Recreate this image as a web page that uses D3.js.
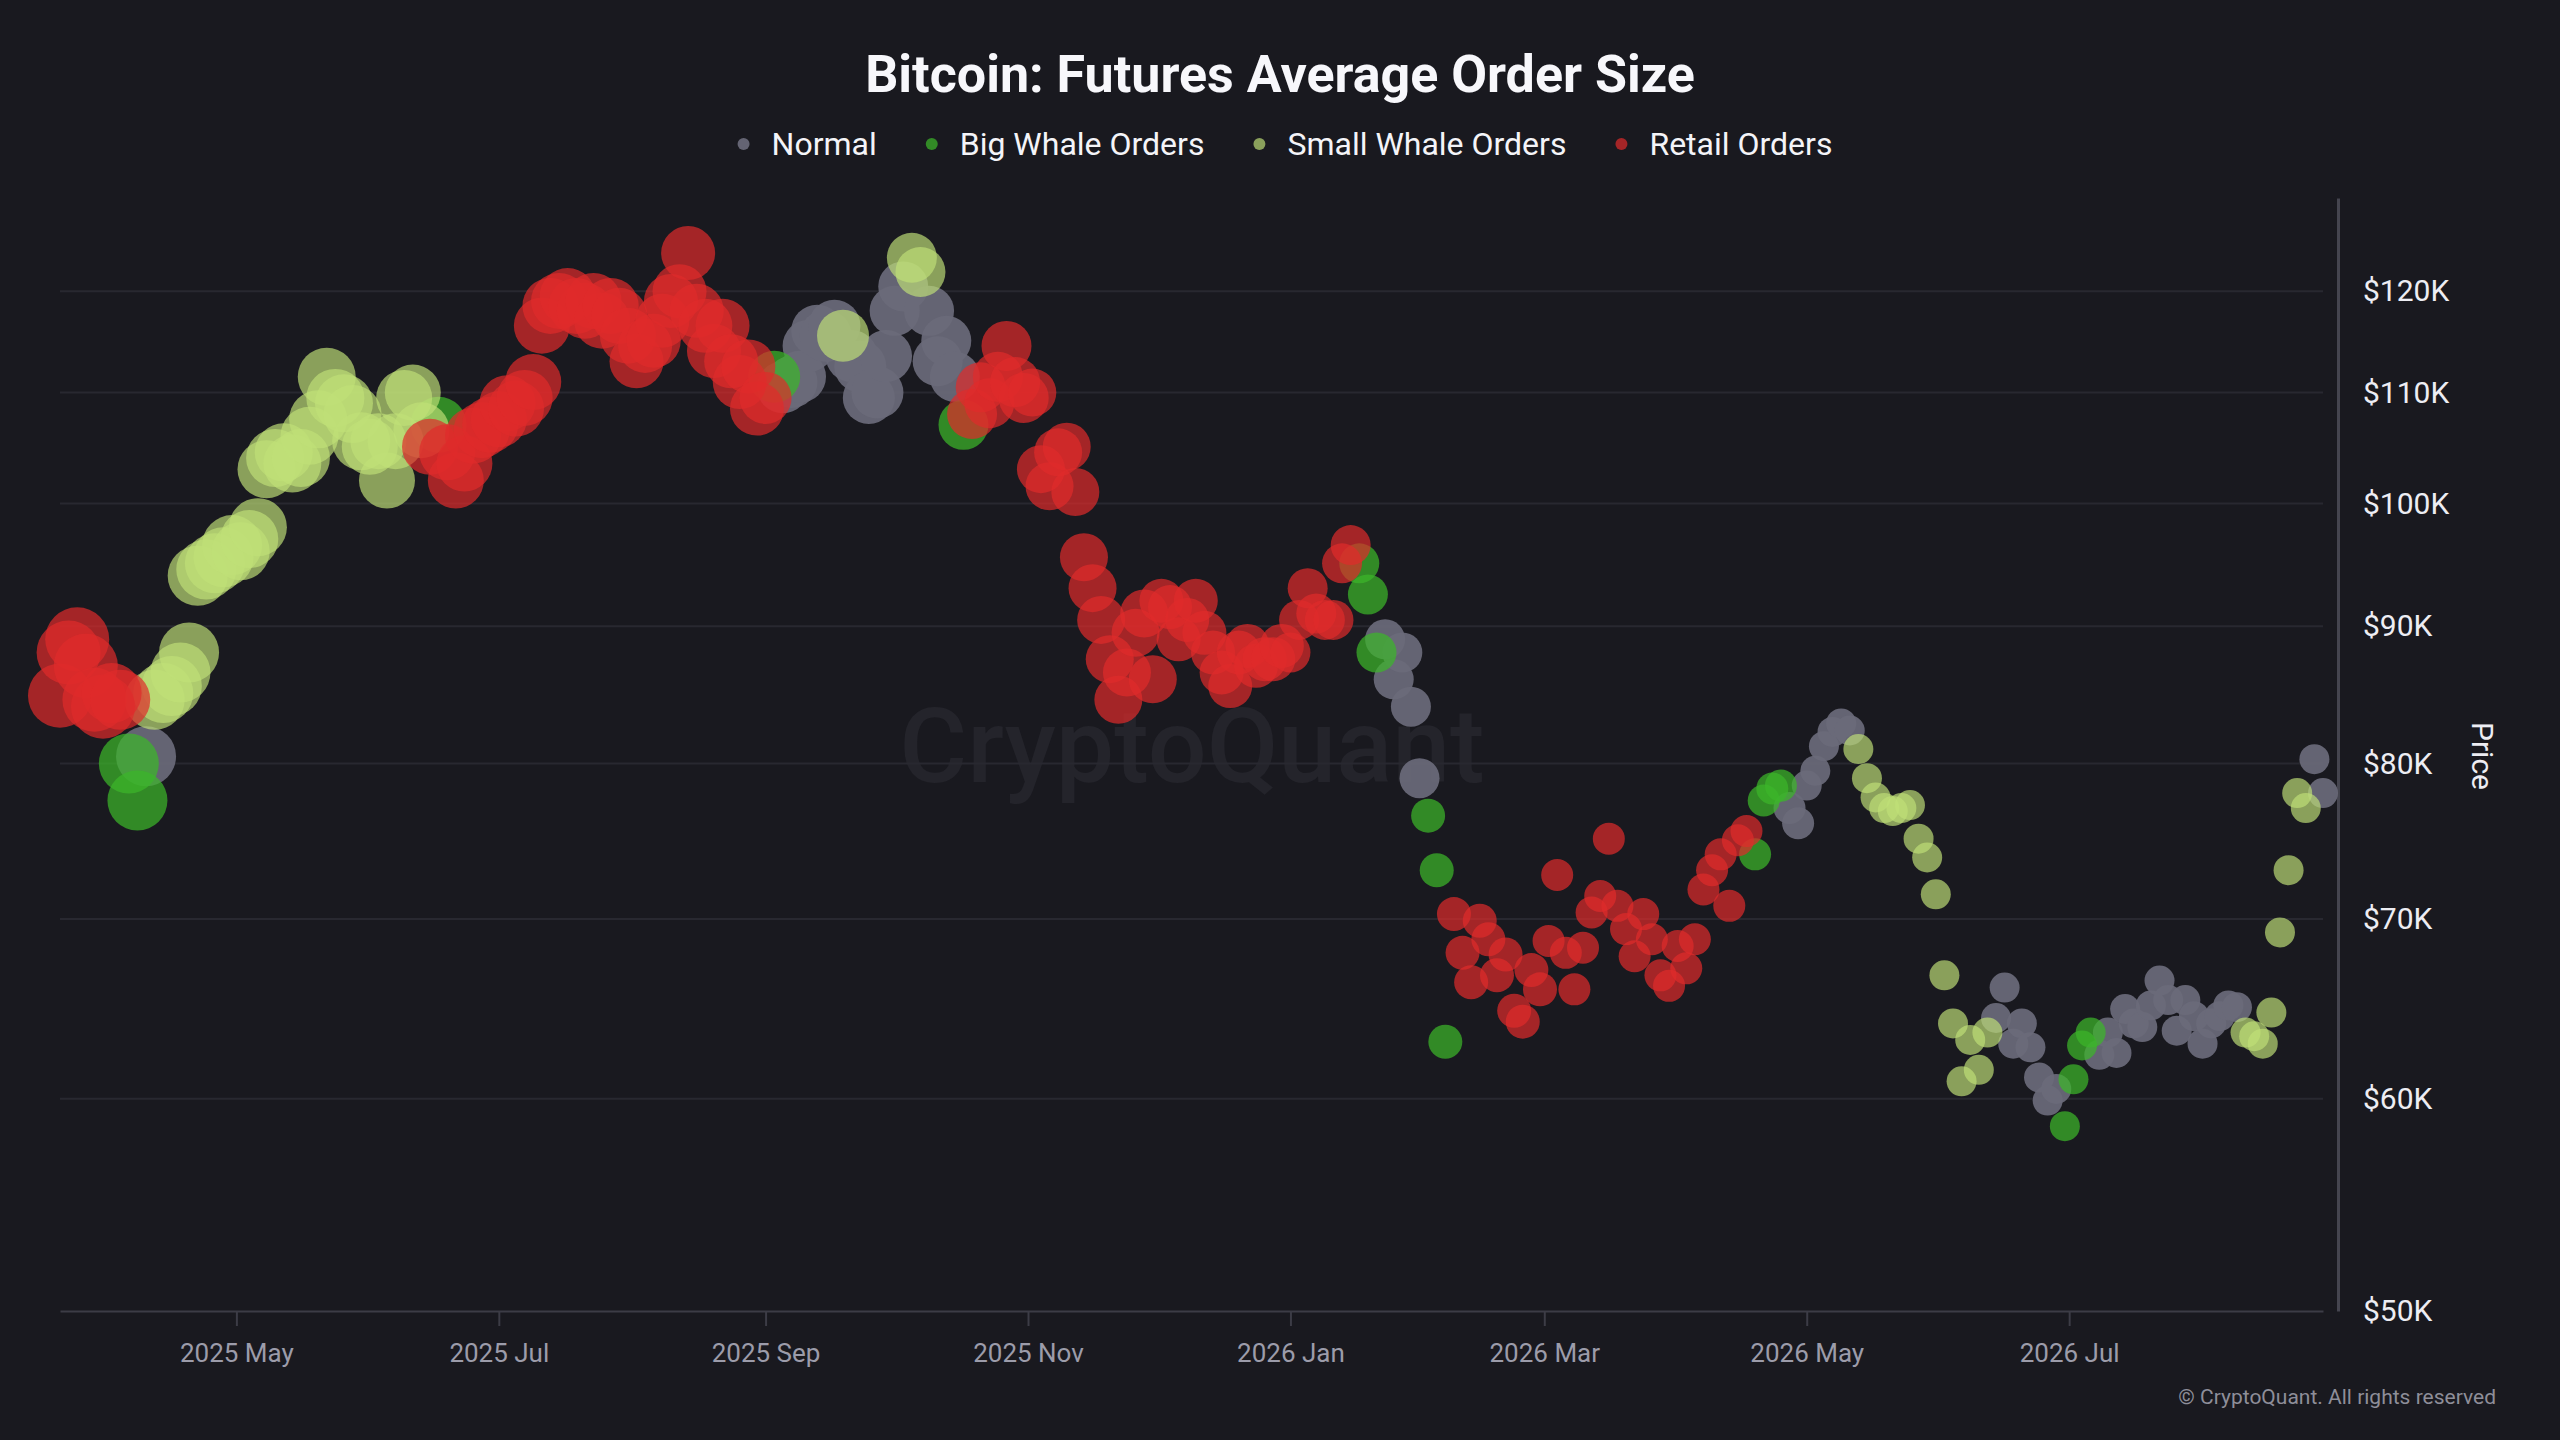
<!DOCTYPE html>
<html>
<head>
<meta charset="utf-8">
<script src="https://cdn.jsdelivr.net/npm/d3@7"></script>
<style>
  html, body { margin: 0; padding: 0; background: #19191f; }
  svg { display: block; font-family: Roboto, "Noto Sans", sans-serif; }
</style>
</head>
<body>
<script>
// one reading every 2 days, starting 2025-03-21
const startDay = "2025-03-21";
const stepDays = 2;

const seriesNames = ["Normal", "Big Whale Orders", "Small Whale Orders", "Retail Orders"];
const seriesCodes = ["N", "G", "S", "R"];
const seriesColors = ["#6a6a7a", "#3cb52a", "#c0e078", "#e02b2b"];
const seriesOpacity = [0.93, 0.72, 0.68, 0.7];

// BTC price, thousands of USD
const prices = [
  84.8, 88.0, 89.0, 87.0, 84.5, 84.0, 85.0, 84.5, 80.0, 77.5,
  80.5, 84.5, 85.0, 85.5, 86.5, 88.0, 94.0, 94.5, 95.0, 95.5,
  96.5, 96.0, 97.0, 98.0, 103.0, 104.0, 104.5, 103.5, 104.0, 106.0,
  107.5, 111.5, 109.5, 109.0, 108.0, 105.5, 105.0, 105.5, 102.0, 105.5,
  109.5, 110.0, 106.5, 105.0, 107.0, 104.5, 102.0, 103.5, 106.0, 106.5,
  107.0, 107.5, 109.0, 108.5, 109.5, 111.0, 116.5, 118.5, 119.0, 119.5,
  118.5, 118.0, 119.0, 117.0, 118.5, 117.5, 115.5, 113.0, 114.5, 115.0,
  117.0, 119.0, 120.0, 124.0, 118.0, 116.5, 114.0, 116.5, 113.0, 111.0,
  112.5, 108.5, 109.5, 111.5, 110.5, 111.0, 111.5, 114.5, 116.0, 115.5,
  116.5, 115.5, 113.5, 112.5, 109.5, 110.0, 113.5, 118.0, 120.5, 123.5,
  122.0, 118.0, 113.0, 115.0, 111.5, 107.0, 108.0, 110.5, 109.0, 111.5,
  114.5, 111.0, 109.5, 110.0, 103.0, 101.5, 104.5, 105.0, 101.0, 95.5,
  93.0, 90.5, 87.5, 84.5, 86.5, 89.5, 91.0, 86.0, 92.0, 91.5,
  89.0, 90.5, 92.0, 89.5, 88.0, 86.5, 85.5, 88.0, 88.5, 87.0,
  87.5, 87.5, 88.5, 88.0, 90.5, 93.0, 91.0, 90.5, 90.5, 95.0,
  96.5, 95.0, 92.5, 88.0, 89.0, 86.0, 88.0, 84.0, 79.0, 76.5,
  73.0, 63.0, 70.3, 68.0, 66.3, 69.9, 68.8, 66.7, 67.9, 64.7,
  64.1, 67.0, 65.9, 68.7, 72.7, 68.0, 65.9, 68.3, 70.4, 71.4,
  75.0, 70.8, 69.4, 67.8, 70.3, 68.8, 66.7, 66.1, 68.4, 67.1,
  68.8, 71.8, 73.0, 74.0, 70.8, 74.9, 75.5, 74.0, 77.5, 78.3,
  78.5, 77.0, 76.0, 78.5, 79.5, 81.2, 82.2, 82.8, 82.3, 81.0,
  79.0, 77.7, 77.0, 76.8, 77.0, 77.2, 75.0, 73.8, 71.5, 66.7,
  64.0, 60.9, 63.1, 61.5, 63.5, 64.3, 66.0, 62.9, 64.0, 62.7,
  61.1, 59.9, 60.5, 58.6, 61.0, 62.8, 63.5, 62.3, 63.5, 62.4,
  64.8, 64.0, 63.8, 65.0, 66.4, 65.3, 63.6, 65.3, 64.4, 62.9,
  64.0, 64.4, 65.0, 64.9, 63.5, 63.3, 62.9, 64.6, 69.2, 73.0,
  78.0, 77.0, 80.3, 78.0
];

// order size class per reading (codes from seriesCodes)
const orderType = (
  "RRRRRRRRGG" + "NSSSSSSSSS" + "SSSSSSSSSS" + "SSSSSSSSSS" + "SSSRGRRRRR" +
  "RRRRRRRRRR" + "RRRRRRRRRR" + "RRRRRRRRRR" + "RRRGNNNNNN" + "NSNNNNNNNS" +
  "SNNNNGRRRR" + "RRRRRRRRRR" + "RRRRRRRRRR" + "RRRRRRRRRR" + "RRRRRRRRRR" +
  "RGGGNNNNNG" + "GGRRRRRRRR" + "RRRRRRRRRR" + "RRRRRRRRRR" + "RRRRRRRGGG" +
  "GNNNNNNNNS" + "SSSSSSSSSS" + "SSSSSNNNNN" + "NNNGGGGNNN" + "NNNNNNNNNN" +
  "NNNNSSSSSS" + "SSNN"
).split("");

// bubble size per month
const sizeMonths = ["2025-03", "2025-04", "2025-05", "2025-06", "2025-07", "2025-08",
  "2025-09", "2025-10", "2025-11", "2025-12", "2026-01", "2026-02",
  "2026-03", "2026-04", "2026-05", "2026-06", "2026-07", "2026-08"];
const bubbleSize = [32, 30, 29, 28, 28, 27, 26, 25, 24, 22, 20, 17, 16, 16, 15, 15, 15, 15];

const priceTicks = [50000, 60000, 70000, 80000, 90000, 100000, 110000, 120000];

const W = 2560, H = 1440;
const plot = { left: 60, right: 2323, top: 198, bottom: 1311 };

const parseDay = d3.utcParse("%Y-%m-%d");
const fmtMonth = d3.utcFormat("%Y-%m");
const t0 = parseDay(startDay);

const points = prices.map((p, i) => {
  const date = d3.utcDay.offset(t0, i * stepDays);
  return {
    date,
    price: p * 1000,
    k: seriesCodes.indexOf(orderType[i]),
    size: bubbleSize[sizeMonths.indexOf(fmtMonth(date))]
  };
});

const x = d3.scaleUtc()
  .domain([t0, parseDay("2026-08-29")])
  .range([plot.left, plot.right]);

const y = d3.scaleLog()
  .domain([50000, 130000])
  .range([plot.bottom, plot.top]);

const r = d3.scaleLinear().domain([0, 32]).range([0, 32]);

const svg = d3.select("body")
  .append("svg")
  .attr("width", W)
  .attr("height", H);

svg.append("rect")
  .attr("width", W)
  .attr("height", H)
  .attr("fill", "#19191f");

// title
svg.append("text")
  .attr("x", 1280)
  .attr("y", 92)
  .attr("text-anchor", "middle")
  .attr("font-size", 52)
  .attr("font-weight", 700)
  .attr("fill", "#f7f7fb")
  .text("Bitcoin: Futures Average Order Size");

// legend
const legend = svg.append("g").attr("class", "legend");
let lx = 0;
seriesNames.forEach((name, i) => {
  const g = legend.append("g").attr("transform", `translate(${lx},0)`);
  g.append("circle")
    .attr("cx", 0)
    .attr("cy", 0)
    .attr("r", 6)
    .attr("fill", seriesColors[i])
    .attr("fill-opacity", seriesOpacity[i]);
  const t = g.append("text")
    .attr("x", 28)
    .attr("y", 11)
    .attr("font-size", 32)
    .attr("fill", "#f4f4f8")
    .text(name);
  lx += 28 + t.node().getComputedTextLength() + 55;
});
const legendW = lx - 55;
legend.attr("transform", `translate(${1288 - legendW / 2},144)`);

// watermark
svg.append("text")
  .attr("x", 1192)
  .attr("y", 782)
  .attr("text-anchor", "middle")
  .attr("font-size", 104)
  .attr("font-weight", 500)
  .attr("fill", "#24242b")
  .text("CryptoQuant");

// grid
svg.append("g")
  .selectAll("line")
  .data(priceTicks.slice(1))
  .enter()
  .append("line")
  .attr("x1", plot.left)
  .attr("x2", plot.right)
  .attr("y1", d => y(d))
  .attr("y2", d => y(d))
  .attr("stroke", "#282830")
  .attr("stroke-width", 2);

// x axis
const xAxis = svg.append("g")
  .attr("transform", `translate(0,${plot.bottom})`)
  .call(d3.axisBottom(x)
    .ticks(d3.utcMonth.every(2))
    .tickFormat(d3.utcFormat("%Y %b"))
    .tickSize(15)
    .tickSizeOuter(0)
    .tickPadding(18));
xAxis.select(".domain").attr("stroke", "#3c3c46").attr("stroke-width", 2);
xAxis.selectAll(".tick line").attr("stroke", "#3c3c46").attr("stroke-width", 2);
xAxis.selectAll(".tick text")
  .attr("font-size", 26)
  .attr("font-family", "Roboto, sans-serif")
  .attr("fill", "#9c9caa");

// y axis (right)
const yAxis = svg.append("g")
  .attr("transform", "translate(2338,0)")
  .call(d3.axisRight(y)
    .tickValues(priceTicks)
    .tickFormat(d => "$" + d / 1000 + "K")
    .tickSize(0)
    .tickSizeOuter(0)
    .tickPadding(25));
yAxis.select(".domain").attr("stroke", "#45454f").attr("stroke-width", 3);
yAxis.selectAll(".tick text")
  .attr("font-size", 30)
  .attr("font-family", "Roboto, sans-serif")
  .attr("fill", "#ededf3");

svg.append("text")
  .attr("transform", "translate(2472,756) rotate(90)")
  .attr("text-anchor", "middle")
  .attr("font-size", 30)
  .attr("fill", "#ededf3")
  .text("Price");

// bubbles, one layer per series in legend order (retail on top)
const layers = svg.append("g");
seriesCodes.forEach((code, k) => {
  layers.append("g")
    .selectAll("circle")
    .data(points.filter(d => d.k === k))
    .enter()
    .append("circle")
    .attr("cx", d => x(d.date))
    .attr("cy", d => y(d.price))
    .attr("r", d => r(d.size))
    .attr("fill", seriesColors[k])
    .attr("fill-opacity", seriesOpacity[k]);
});

// footer
svg.append("text")
  .attr("x", 2496)
  .attr("y", 1404)
  .attr("text-anchor", "end")
  .attr("font-size", 21)
  .attr("fill", "#8e8e99")
  .text("© CryptoQuant. All rights reserved");
</script>
</body>
</html>
